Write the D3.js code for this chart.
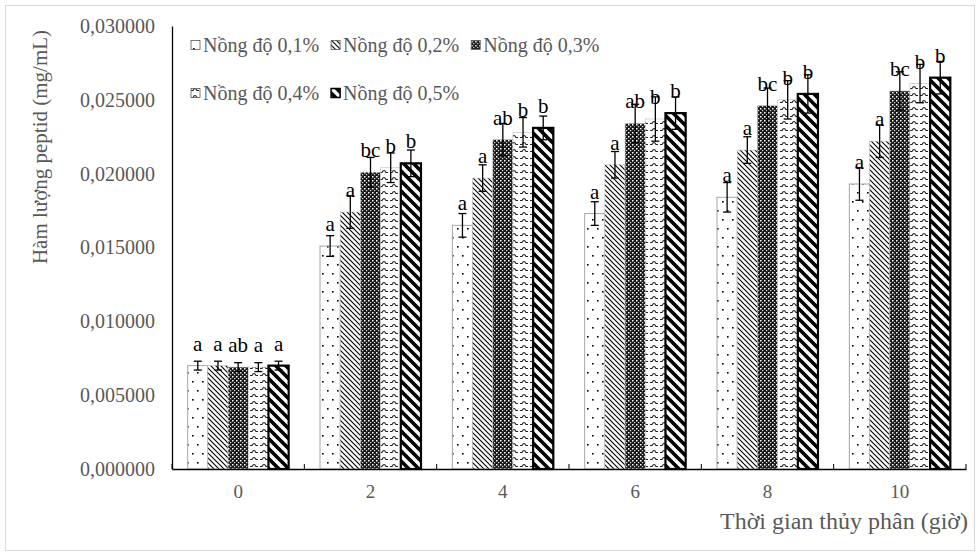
<!DOCTYPE html>
<html lang="vi">
<head>
<meta charset="utf-8">
<title>Hàm lượng peptid</title>
<script src="https://d3js.org/d3.v7.min.js"></script>
<style>
  body { margin: 0; background: #fff; }
  svg text { font-family: 'Liberation Serif', 'Times New Roman', serif; }
</style>
</head>
<body>
<svg id="chart" width="980" height="556"></svg>
<script>
// data
var hours = ["0", "2", "4", "6", "8", "10"];
var seriesNames = ["Nồng độ 0,1%", "Nồng độ 0,2%", "Nồng độ 0,3%", "Nồng độ 0,4%", "Nồng độ 0,5%"];
var conc01 = [0.0070, 0.0151, 0.0165, 0.0173, 0.0184, 0.0193];
var conc02 = [0.0070, 0.0174, 0.0197, 0.0206, 0.0216, 0.0222];
var conc03 = [0.0069, 0.0201, 0.0223, 0.0234, 0.0246, 0.0256];
var conc04 = [0.0069, 0.0204, 0.0228, 0.0237, 0.0250, 0.0261];
var conc05 = [0.0070, 0.0207, 0.0231, 0.0241, 0.0254, 0.0265];
var err01 = [0.0003, 0.0007, 0.0008, 0.0008, 0.0010, 0.0011];
var err02 = [0.0003, 0.0011, 0.0009, 0.0009, 0.0009, 0.0011];
var err03 = [0.0003, 0.0010, 0.0011, 0.0013, 0.0012, 0.0013];
var err04 = [0.0003, 0.0010, 0.0010, 0.0015, 0.0013, 0.0013];
var err05 = [0.0003, 0.0009, 0.0008, 0.0011, 0.0013, 0.0011];
var letters01 = ["a", "a", "a", "a", "a", "a"];
var letters02 = ["a", "a", "a", "a", "a", "a"];
var letters03 = ["ab", "bc", "ab", "ab", "bc", "bc"];
var letters04 = ["a", "b", "b", "b", "b", "b"];
var letters05 = ["a", "b", "b", "b", "b", "b"];
var yTicks = [0, 0.005, 0.010, 0.015, 0.020, 0.025, 0.030];

var values = [conc01, conc02, conc03, conc04, conc05];
var errors = [err01, err02, err03, err04, err05];
var letters = [letters01, letters02, letters03, letters04, letters05];

var svg = d3.select("#chart");
var plotLeft = 172, plotRight = 966, plotTop = 26, plotBottom = 469;

// chart frame
svg.append("rect").attr("x", 5.5).attr("y", 5.5).attr("width", 969).attr("height", 545)
  .attr("fill", "#fff").attr("stroke", "#d9d9d9");

// patterns, one per series
var defs = svg.append("defs");
var p0 = defs.append("pattern").attr("id", "pat0").attr("patternUnits", "userSpaceOnUse")
  .attr("width", 10).attr("height", 18);
p0.append("rect").attr("width", 10).attr("height", 18).attr("fill", "#fff");
p0.append("rect").attr("x", 2).attr("y", 3).attr("width", 1.6).attr("height", 1.6).attr("fill", "#000");
p0.append("rect").attr("x", 7).attr("y", 12).attr("width", 1.6).attr("height", 1.6).attr("fill", "#000");

var p1 = defs.append("pattern").attr("id", "pat1").attr("patternUnits", "userSpaceOnUse")
  .attr("width", 5).attr("height", 5);
p1.append("rect").attr("width", 5).attr("height", 5).attr("fill", "#fff");
p1.append("path").attr("d", "M-1,-1L6,6M-1,4L1,6M4,-1L6,1").attr("stroke", "#000").attr("stroke-width", 1.1);

var p2 = defs.append("pattern").attr("id", "pat2").attr("patternUnits", "userSpaceOnUse")
  .attr("width", 4).attr("height", 4);
p2.append("rect").attr("width", 4).attr("height", 4).attr("fill", "#1a1a1a");
p2.append("rect").attr("x", 0).attr("y", 0).attr("width", 1.5).attr("height", 1.5).attr("fill", "#fff");
p2.append("rect").attr("x", 2).attr("y", 2).attr("width", 1.2).attr("height", 1.2).attr("fill", "#ddd");

var p3 = defs.append("pattern").attr("id", "pat3").attr("patternUnits", "userSpaceOnUse")
  .attr("width", 10).attr("height", 7);
p3.append("rect").attr("width", 10).attr("height", 7).attr("fill", "#fff");
p3.append("path").attr("d", "M0,4.5L2,4.5Q4,0.5 6,4.5L8,4.5").attr("fill", "none").attr("stroke", "#222").attr("stroke-width", 1.1);

var p4 = defs.append("pattern").attr("id", "pat4").attr("patternUnits", "userSpaceOnUse")
  .attr("width", 10).attr("height", 10);
p4.append("rect").attr("width", 10).attr("height", 10).attr("fill", "#fff");
p4.append("path").attr("d", "M-2,-2L12,12M-2,8L2,12M8,-2L12,2").attr("stroke", "#000").attr("stroke-width", 3.6);

var fills = ["url(#pat0)", "url(#pat1)", "url(#pat2)", "url(#pat3)", "url(#pat4)"];
var strokes = ["#a6a6a6", "#bfbfbf", "#bfbfbf", "#bfbfbf", "#000"];
var strokeW = [1, 0.6, 0.6, 0.6, 2.2];

// scales
var x0 = d3.scaleBand().domain(hours).range([plotLeft, plotRight]).paddingInner(0.237).paddingOuter(0.1185);
var x1 = d3.scaleBand().domain(d3.range(5)).range([0, x0.bandwidth()]);
var y = d3.scaleLinear().domain([0, 0.03]).range([plotBottom, plotTop]);

var rows = [];
hours.forEach(function (h, i) {
  values.forEach(function (v, s) {
    rows.push({ h: h, s: s, v: v[i], e: errors[s][i], l: letters[s][i] });
  });
});

// bars
svg.append("g").selectAll("rect").data(rows).join("rect")
  .attr("x", function (d) { return x0(d.h) + x1(d.s); })
  .attr("y", function (d) { return y(d.v); })
  .attr("width", x1.bandwidth())
  .attr("height", function (d) { return y(0) - y(d.v); })
  .attr("fill", function (d) { return fills[d.s]; })
  .attr("stroke", function (d) { return strokes[d.s]; })
  .attr("stroke-width", function (d) { return strokeW[d.s]; });

// error bars
var eb = svg.append("g").attr("stroke", "#000").attr("stroke-width", 1.3);
rows.forEach(function (d) {
  var cx = x0(d.h) + x1(d.s) + x1.bandwidth() / 2;
  var y1 = y(d.v + d.e), y2 = y(d.v - d.e);
  eb.append("line").attr("x1", cx).attr("x2", cx).attr("y1", y1).attr("y2", y2);
  eb.append("line").attr("x1", cx - 4).attr("x2", cx + 4).attr("y1", y1).attr("y2", y1);
  eb.append("line").attr("x1", cx - 4).attr("x2", cx + 4).attr("y1", y2).attr("y2", y2);
});

// significance letters (sit above the bar top, error bar runs through them)
svg.append("g").selectAll("text").data(rows).join("text")
  .attr("x", function (d) { return x0(d.h) + x1(d.s) + x1.bandwidth() / 2; })
  .attr("y", function (d) { return y(d.v) - 15; })
  .attr("text-anchor", "middle")
  .attr("font-size", 21)
  .attr("fill", "#000")
  .text(function (d) { return d.l; });

// y axis
var yAxis = svg.append("g").attr("transform", "translate(" + plotLeft + ",0)")
  .call(d3.axisLeft(y).tickValues(yTicks).tickSize(0).tickPadding(17)
    .tickFormat(function (d) { return d3.format(".6f")(d).replace(".", ","); }));
yAxis.select(".domain").attr("stroke", "#000").attr("stroke-width", 1.3);
yAxis.selectAll("text").attr("font-size", 20).attr("fill", "#595959")
  .attr("font-family", "'Liberation Serif', serif");

// x axis
var xAxis = svg.append("g").attr("transform", "translate(0," + plotBottom + ")")
  .call(d3.axisBottom(x0).tickSize(0).tickPadding(16));
xAxis.select(".domain").attr("stroke", "#000").attr("stroke-width", 1.5);
xAxis.selectAll("text").attr("font-size", 19).attr("fill", "#595959")
  .attr("font-family", "'Liberation Serif', serif");
// category separators
xAxis.selectAll(".sep").data(d3.range(hours.length + 1)).join("line")
  .attr("class", "sep")
  .attr("x1", function (i) { return plotLeft + i * x0.step(); })
  .attr("x2", function (i) { return plotLeft + i * x0.step(); })
  .attr("y1", 0).attr("y2", -5)
  .attr("stroke", "#000").attr("stroke-width", 1);

// axis titles
svg.append("text")
  .attr("transform", "translate(47,147) rotate(-90)")
  .attr("text-anchor", "middle")
  .attr("font-size", 21).attr("fill", "#595959")
  .text("Hàm lượng peptid (mg/mL)");
svg.append("text")
  .attr("x", 968).attr("y", 529)
  .attr("text-anchor", "end")
  .attr("font-size", 24).attr("fill", "#595959")
  .text("Thời gian thủy phân (giờ)");

// legend, two rows
var legendRows = [[0, 1, 2], [3, 4]];
legendRows.forEach(function (row, r) {
  var lx = 191, ly = 45 + r * 48;
  row.forEach(function (s) {
    var g = svg.append("g").attr("transform", "translate(" + lx + "," + ly + ")");
    g.append("rect").attr("x", 0).attr("y", -4.5).attr("width", 9).attr("height", 9)
      .attr("fill", fills[s]).attr("stroke", s === 4 ? "#000" : "#595959").attr("stroke-width", s === 4 ? 1.5 : 0.8);
    var t = g.append("text").attr("x", 12).attr("y", 7).attr("font-size", 20).attr("fill", "#595959")
      .text(seriesNames[s]);
    lx += 12 + t.node().getComputedTextLength() + 12;
  });
});
</script>
</body>
</html>
